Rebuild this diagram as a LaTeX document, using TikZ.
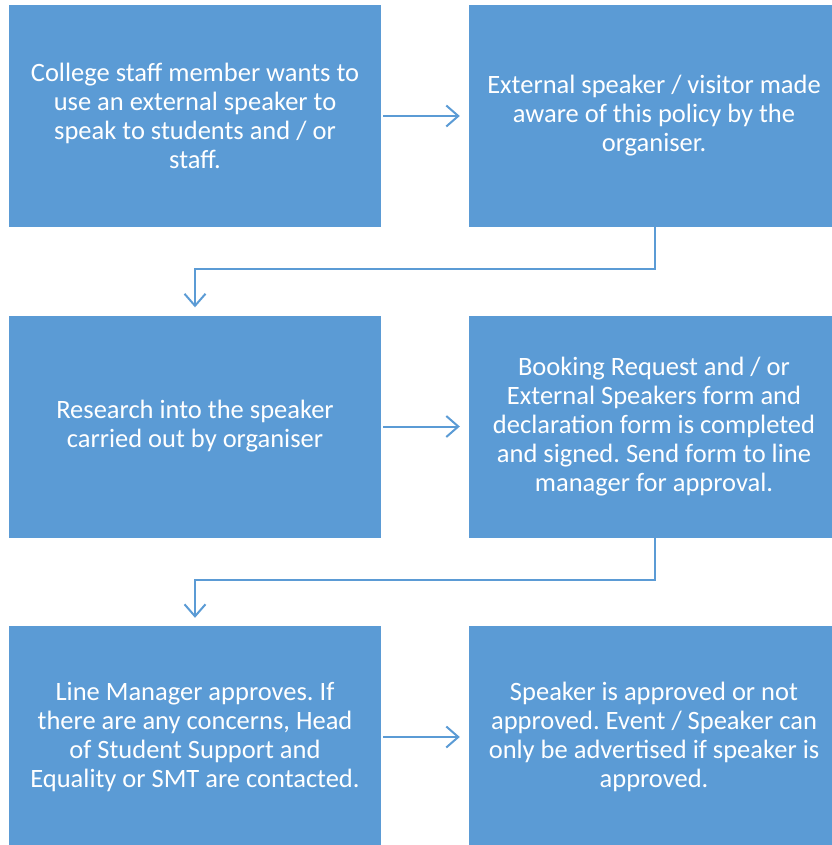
\documentclass[tikz,border=0pt]{standalone}
\usepackage{fontspec}
\setmainfont{Carlito}
\frenchspacing
\usetikzlibrary{arrows.meta,positioning}
\definecolor{flowblue}{RGB}{91,155,213}
\definecolor{flowline}{RGB}{91,155,213}

\tikzset{
  stage/.style={fill=flowblue, draw=none, minimum width=372pt, minimum height=222pt,
    inner sep=0pt, text=white, align=center, font=\fontsize{26.5}{29}\selectfont},
  flow/.style={flowline, line width=2pt,
    -{Straight Barb[length=12pt,width=21pt,line width=2pt]}}
}

\begin{document}
\begin{tikzpicture}[x=1pt,y=-1pt]
\useasboundingbox (0,0) rectangle (831,845);
% Stage boxes, first row
\node[stage] (wants) at (195,116) {College staff member wants to\\use an external speaker to\\speak to students and / or\\staff.};
\node[stage, minimum width=370pt] (aware) at (654,116) {External speaker / visitor made\\aware of this policy by the\\organiser.};
% Second row
\node[stage] (research) at (195,426.5) {Research into the speaker\\carried out by organiser};
\node[stage, minimum width=370pt] (form) at (654,426.5) {Booking Request and / or\\External Speakers form and\\declaration form is completed\\and signed. Send form to line\\manager for approval.};
% Third row (cut off at the bottom)
\node[stage] (manager) at (195,737) {Line Manager approves. If\\there are any concerns, Head\\of Student Support and\\Equality or SMT are contacted.};
\node[stage, minimum width=370pt] (approved) at (654,737) {Speaker is approved or not\\approved. Event / Speaker can\\only be advertised if speaker is\\approved.};
% Arrows within rows
\draw[flow, shorten <=2pt, shorten >=9pt] (wants.east) -- (aware.west);
\draw[flow, shorten <=2pt, shorten >=9pt] (research.east) -- (form.west);
\draw[flow, shorten <=2pt, shorten >=9pt] (manager.east) -- (approved.west);
% Arrows down to the next row
\draw[flow, shorten >=8pt] ([xshift=1pt,yshift=3pt]aware.south) |- ++(-460,45) -| (research.north);
\draw[flow, shorten >=8pt] ([xshift=1pt,yshift=3pt]form.south) |- ++(-460,45) -| (manager.north);
\end{tikzpicture}
\end{document}
